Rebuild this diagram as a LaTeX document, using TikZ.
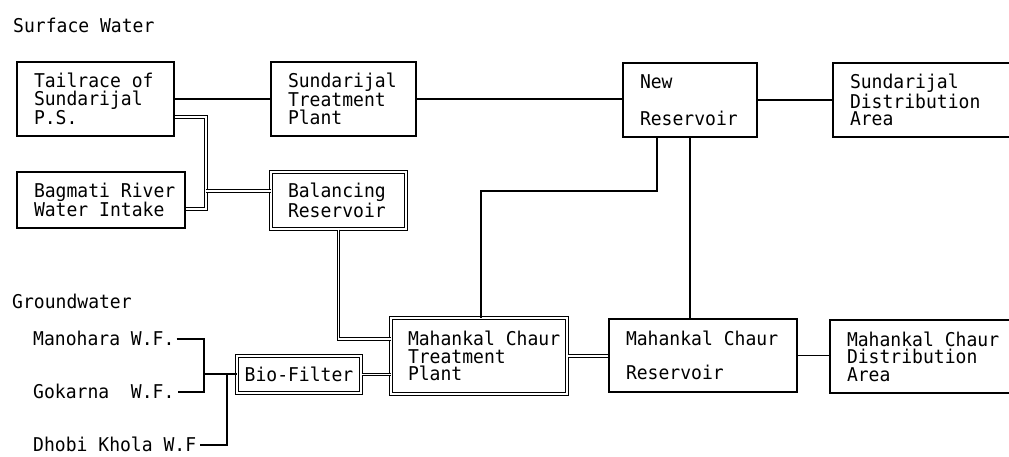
\documentclass[tikz,border=0pt]{standalone}
\usepackage{fontspec}
\newfontfamily\monofam[FakeStretch=0.95,WordSpace={1,0,0}]{DejaVu Sans Mono}
\newcommand\mono{\monofam\fontsize{19pt}{17.5pt}\selectfont}
\begin{document}
\begin{tikzpicture}[x=1pt,y=-1pt,
  box/.style={draw, line width=1.6pt, rectangle, inner xsep=0pt, inner ysep=0pt, align=flush left, font=\mono},
  dbox/.style={box, double, double distance=1.8pt, line width=1pt},
  ln/.style={line width=1.6pt},
  dbl/.style={double, double distance=1.6pt, line width=1pt},
  lbl/.style={font=\mono, inner sep=0pt}]
\useasboundingbox (0,0) rectangle (1009,456);
\clip (0,0) rectangle (1009,456);
% titles
\node[lbl, anchor=base west] (tsw) at (13,32) {Surface Water};
\node[lbl, anchor=base west] (tgw) at (12,308) {Groundwater};
% surface water boxes
\node[box, minimum width=157pt, minimum height=74pt, text width=123pt] (tail) at (95.5,99) {Tailrace of\\Sundarijal\\P.S.};
\node[box, minimum width=145pt, minimum height=74pt, text width=111pt] (stp) at (343.5,99) {Sundarijal\\Treatment\\Plant};
\node[box, minimum width=134pt, minimum height=74pt, text width=100pt] (newres) at (690,100) {New\\[19pt]Reservoir};
\node[box, minimum width=182pt, minimum height=74pt, text width=148pt] (sdist) at (924,100) {Sundarijal\\Distribution\\Area};
\node[box, minimum width=168pt, minimum height=56pt, text width=134pt] (bag) at (101,200) {\mbox{Bagmati River}\\\mbox{Water Intake}};
\node[dbox, minimum width=135pt, minimum height=57pt, text width=101pt] (bal) at (338.5,200.5) {Balancing\\Reservoir};
% groundwater / Mahankal
\node[dbox, minimum width=176pt, minimum height=76pt, text width=142pt] (mtp) at (479,356) {\mbox{Mahankal Chaur}\\Treatment\\Plant};
\node[box, minimum width=188pt, minimum height=73pt, text width=154pt] (mres) at (703,355.5) {\mbox{Mahankal Chaur}\\[17pt]Reservoir};
\node[box, minimum width=185pt, minimum height=73pt, text width=151pt] (mdist) at (922.5,356.5) {\mbox{Mahankal Chaur}\\Distribution\\Area};
\node[dbox, minimum width=124pt, minimum height=37pt] (bio) at (299,374.5) {Bio-Filter};
% wells
\node[lbl, anchor=base west] (man) at (33,345) {Manohara W.F.};
\node[lbl, anchor=base west] (gok) at (33,398) {Gokarna\ \ W.F.};
\node[lbl, anchor=base west] (dho) at (33,451) {Dhobi Khola W.F};
% junctions
\coordinate (j1) at (204,374);
\coordinate (j2) at (227,374);
\coordinate (j3) at (206,191);
\coordinate (j4) at (481,191);
% single connectors
\draw[ln] (tail.east) -- (tail.east -| stp.west);
\draw[ln] (stp.east) -- (stp.east -| newres.west);
\draw[ln] (newres.east) -- (newres.east -| sdist.west);
\draw[ln] ([xshift=-33pt]newres.south) |- (j4) -- (j4 |- mtp.north);
\draw[ln] (newres.south) -- (newres.south |- mres.north);
\draw[ln] (mres.east) -- (mres.east -| mdist.west);
\draw[ln] ([xshift=2pt,yshift=6pt]man.base east) -| (j1) |- ([xshift=3pt,yshift=6pt]gok.base east);
\draw[ln] (j1) -- (j1 -| bio.west);
\draw[ln] ([xshift=4pt,yshift=6pt]dho.base east) -| (j2);
% double connectors
\draw[dbl] ([yshift=-18pt]tail.east) -| (j3) |- ([yshift=-9pt]bag.east);
\draw[dbl] (j3) -- (j3 -| bal.west);
\draw[dbl] (bal.south) |- ([yshift=17pt]mtp.west);
\draw[dbl] (bio.east) -- (bio.east -| mtp.west);
\draw[dbl] (mtp.east) -- (mtp.east -| mres.west);
\end{tikzpicture}
\end{document}
